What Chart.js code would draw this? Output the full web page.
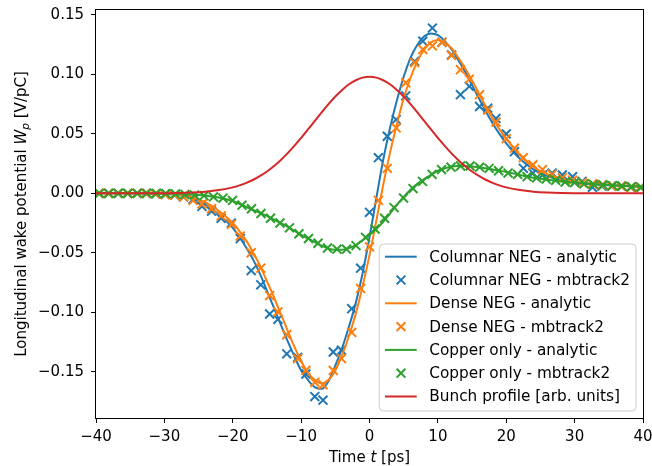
<!DOCTYPE html>
<html>
<head>
<meta charset="utf-8">
<script src="https://cdn.jsdelivr.net/npm/chart.js@4.4.1/dist/chart.umd.min.js"></script>
<style>
  html, body { margin: 0; padding: 0; background: #fff; }
  #wrap { width: 652px; height: 466px; }
</style>
</head>
<body>
<div id="wrap"><canvas id="wakeChart" width="652" height="466"></canvas></div>
<script>
// time grid [ps] used by the analytic curves
const tAnalytic = [-40, -35, -30, -28, -26, -24, -22,
  -20, -19, -18, -17, -16, -15, -14, -13, -12, -11, -10, -9, -8, -7, -6, -5, -4, -3, -2, -1,
  0, 1, 2, 3, 4, 5, 6, 7, 8, 9, 10, 11, 12, 13, 14, 15, 16, 17, 18, 19, 20,
  22, 24, 26, 28, 30, 33, 36, 40];

// analytic wake potentials [V/pC]
const columnarAnalytic = [0, 0, -0.0005, -0.0013, -0.004, -0.0095, -0.018,
  -0.029, -0.037, -0.046, -0.056, -0.068, -0.082, -0.096, -0.110, -0.124, -0.137, -0.149, -0.157, -0.163, -0.1645, -0.158, -0.145, -0.130, -0.112, -0.092, -0.067,
  -0.037, -0.004, 0.028, 0.055, 0.078, 0.098, 0.114, 0.125, 0.132, 0.1345, 0.133, 0.128, 0.121, 0.112, 0.102, 0.091, 0.080, 0.069, 0.059, 0.050, 0.042,
  0.029, 0.020, 0.0145, 0.011, 0.009, 0.0075, 0.0065, 0.0055];
const denseAnalytic = [0, 0, -0.0004, -0.001, -0.003, -0.0075, -0.015,
  -0.025, -0.032, -0.040, -0.050, -0.061, -0.074, -0.087, -0.101, -0.115, -0.129, -0.141, -0.151, -0.157, -0.160, -0.157, -0.149, -0.136, -0.120, -0.101, -0.078,
  -0.052, -0.023, 0.007, 0.034, 0.058, 0.080, 0.097, 0.111, 0.121, 0.127, 0.129, 0.127, 0.122, 0.114, 0.105, 0.095, 0.084, 0.073, 0.063, 0.054, 0.046,
  0.032, 0.022, 0.016, 0.0125, 0.010, 0.008, 0.0065, 0.0055];
const copperAnalytic = [0, 0, -0.0001, -0.0004, -0.001, -0.002, -0.0035,
  -0.0065, -0.009, -0.0115, -0.014, -0.0165, -0.019, -0.022, -0.025, -0.028, -0.0315, -0.035, -0.038, -0.041, -0.044, -0.0465, -0.0475, -0.0475, -0.046, -0.0435, -0.0395,
  -0.035, -0.030, -0.024, -0.017, -0.0098, -0.003, 0.003, 0.008, 0.012, 0.0155, 0.019, 0.021, 0.0225, 0.023, 0.023, 0.0225, 0.022, 0.021, 0.020, 0.019, 0.018,
  0.0155, 0.013, 0.0115, 0.010, 0.009, 0.0077, 0.0066, 0.0055];
const bunchProfile = [0, 0, 0.0001, 0.0003, 0.0007, 0.0014, 0.0027,
  0.0050, 0.0067, 0.0088, 0.0114, 0.0146, 0.0184, 0.0228, 0.0279, 0.0336, 0.0399, 0.0466, 0.0537, 0.0609, 0.0681, 0.0750, 0.0814, 0.0870, 0.0917, 0.0951, 0.0973,
  0.0980, 0.0973, 0.0951, 0.0917, 0.0870, 0.0814, 0.0750, 0.0681, 0.0609, 0.0537, 0.0466, 0.0399, 0.0336, 0.0279, 0.0228, 0.0184, 0.0146, 0.0114, 0.0088, 0.0067, 0.0050,
  0.0027, 0.0014, 0.0007, 0.0003, 0.0001, 0, 0, 0];

// mbtrack2 results: NEG runs share one time grid, copper run has its own
const tNeg = [-39.6, -38.2, -36.8, -35.4, -34.0, -32.7, -31.3, -29.9, -28.5, -27.2, -25.8, -24.5, -23.1, -21.7, -20.2,
  -18.9, -17.3, -15.9, -14.6, -13.4, -12.1, -10.5, -9.3, -8.0, -6.8, -5.3, -4.1, -2.6, -1.3,
  0.0, 1.3, 2.6, 3.9, 5.3, 6.6, 7.8, 9.2, 10.6, 12.0, 13.3, 14.6, 16.1, 17.3, 18.5, 20.0,
  21.2, 22.5, 23.9, 25.3, 26.7, 28.2, 29.7, 31.1, 32.6, 34.0, 35.4, 36.8, 38.2, 39.6];
const columnarTrack = [0, 0, 0, 0, 0, 0, -0.0005, -0.0008, -0.0015, -0.003, -0.005, -0.011, -0.015, -0.021, -0.025,
  -0.038, -0.065, -0.077, -0.1015, -0.106, -0.135, -0.138, -0.152, -0.171, -0.174, -0.1335, -0.132, -0.097, -0.063,
  -0.016, 0.030, 0.048, 0.062, 0.082, 0.111, 0.128, 0.139, 0.127, 0.1165, 0.083, 0.090, 0.073, 0.0716, 0.063, 0.050,
  0.035, 0.021, 0.017, 0.0155, 0.017, 0.0155, 0.014, 0.010, 0.005, 0.006, 0.006, 0.006, 0.005, 0.005];
const denseTrack = [0, 0, 0, 0, 0, 0, -0.0005, -0.001, -0.0015, -0.003, -0.006, -0.009, -0.013, -0.019, -0.026,
  -0.036, -0.050, -0.063, -0.086, -0.0998, -0.119, -0.139, -0.149, -0.159, -0.161, -0.149, -0.139, -0.117, -0.080,
  -0.045, -0.006, 0.021, 0.055, 0.093, 0.110, 0.121, 0.124, 0.127, 0.116, 0.104, 0.096, 0.083, 0.070, 0.060, 0.046,
  0.038, 0.030, 0.024, 0.020, 0.016, 0.013, 0.011, 0.009, 0.008, 0.007, 0.006, 0.006, 0.005, 0.005];

const tCopper = [-39.5, -38.11, -36.72, -35.33, -33.94, -32.55, -31.16, -29.77, -28.38, -26.99, -25.6, -24.21, -22.82, -21.43, -20.04,
  -18.65, -17.26, -15.87, -14.48, -13.09, -11.7, -10.31, -8.92, -7.53, -6.14, -4.75, -3.36, -1.97, -0.58,
  0.81, 2.2, 3.59, 4.98, 6.37, 7.76, 9.15, 10.54, 11.93, 13.32, 14.71, 16.1, 17.49, 18.88, 20.27,
  21.66, 23.05, 24.44, 25.83, 27.22, 28.61, 30.0, 31.39, 32.78, 34.17, 35.56, 36.95, 38.34, 39.73];
const copperTrack = [0, 0, 0, 0, 0, 0, 0, -0.0002, -0.0005, -0.001, -0.0015, -0.002, -0.003, -0.004, -0.006,
  -0.010, -0.013, -0.017, -0.021, -0.025, -0.029, -0.034, -0.038, -0.042, -0.046, -0.047, -0.047, -0.044, -0.037,
  -0.030, -0.021, -0.012, -0.004, 0.004, 0.010, 0.016, 0.020, 0.022, 0.023, 0.023, 0.022, 0.021, 0.019, 0.017,
  0.016, 0.014, 0.013, 0.012, 0.011, 0.0095, 0.009, 0.008, 0.0075, 0.007, 0.0065, 0.006, 0.0055, 0.005];

const xTicks = [-40, -30, -20, -10, 0, 10, 20, 30, 40];
const yTicks = [-0.15, -0.10, -0.05, 0.00, 0.05, 0.10, 0.15];

const FONT = "DejaVu Sans";
const FONT_SIZE = 15;
const MINUS = "\u2212";

function toPoints(xs, ys) {
  return xs.map((x, i) => ({ x: x, y: ys[i] }));
}

function lineSet(label, color, ys, order) {
  return {
    label: label, data: toPoints(tAnalytic, ys), showLine: true,
    borderColor: color, backgroundColor: color, borderWidth: 2,
    pointRadius: 0, cubicInterpolationMode: "monotone", order: order
  };
}

function markerSet(label, color, xs, ys, order) {
  return {
    label: label, data: toPoints(xs, ys), showLine: false,
    pointStyle: "crossRot", pointRadius: 6.3, borderColor: color,
    backgroundColor: color, pointBorderWidth: 2, order: order
  };
}

function fontFor(part, size) {
  const s = part.sub ? size * 0.7 : size;
  return (part.italic ? "italic " : "") + s + "px '" + FONT + "'";
}

// draw text made of pieces (italic / subscript), centred on cx
function drawRich(ctx, parts, size, cx, baseY) {
  let total = 0;
  const widths = parts.map((p) => {
    ctx.font = fontFor(p, size);
    const w = ctx.measureText(p.text).width;
    total += w;
    return w;
  });
  let x = cx - total / 2;
  parts.forEach((p, i) => {
    ctx.font = fontFor(p, size);
    ctx.fillText(p.text, x, baseY + (p.sub ? size * 0.22 : 0));
    x += widths[i];
  });
}

// no extra room for the edge tick labels, the layout padding handles it
function noScalePadding(scale) {
  scale.paddingLeft = 0;
  scale.paddingRight = 0;
  scale.paddingTop = 0;
  scale.paddingBottom = 0;
}

const decorations = {
  id: "decorations",
  afterDraw(chart) {
    const ctx = chart.ctx;
    const area = chart.chartArea;
    ctx.save();

    // frame, all four spines
    ctx.strokeStyle = "#000";
    ctx.lineWidth = 1;
    ctx.strokeRect(Math.round(area.left) - 0.5, Math.round(area.top) - 0.5,
      Math.round(area.right - area.left) + 1, Math.round(area.bottom - area.top) + 1);

    // axis titles
    ctx.fillStyle = "#000";
    ctx.textBaseline = "alphabetic";
    drawRich(ctx, [{ text: "Time " }, { text: "t", italic: true }, { text: " [ps]" }],
      FONT_SIZE, (area.left + area.right) / 2, 462);

    ctx.save();
    ctx.translate(26, (area.top + area.bottom) / 2);
    ctx.rotate(-Math.PI / 2);
    drawRich(ctx, [{ text: "Longitudinal wake potential " }, { text: "W", italic: true },
      { text: "p", italic: true, sub: true }, { text: " [V/pC]" }], FONT_SIZE, 0, 0);
    ctx.restore();

    // legend box in the lower right corner
    const w = 256.7, h = 167, r = 4;
    const x0 = area.right - 7 - w, y0 = area.bottom - 7 - h;
    ctx.beginPath();
    ctx.moveTo(x0 + r, y0);
    ctx.lineTo(x0 + w - r, y0);
    ctx.quadraticCurveTo(x0 + w, y0, x0 + w, y0 + r);
    ctx.lineTo(x0 + w, y0 + h - r);
    ctx.quadraticCurveTo(x0 + w, y0 + h, x0 + w - r, y0 + h);
    ctx.lineTo(x0 + r, y0 + h);
    ctx.quadraticCurveTo(x0, y0 + h, x0, y0 + h - r);
    ctx.lineTo(x0, y0 + r);
    ctx.quadraticCurveTo(x0, y0, x0 + r, y0);
    ctx.closePath();
    ctx.fillStyle = "rgba(255,255,255,0.8)";
    ctx.fill();
    ctx.strokeStyle = "#cccccc";
    ctx.stroke();

    const rowH = 23.3;
    chart.data.datasets.forEach((ds, i) => {
      const cy = y0 + 12.7 + i * rowH;
      ctx.strokeStyle = ds.borderColor;
      ctx.beginPath();
      if (ds.showLine) {
        ctx.lineWidth = 2;
        ctx.moveTo(x0 + 5.7, cy);
        ctx.lineTo(x0 + 37.4, cy);
      } else {
        const d = 4.4, cx = x0 + 21.7;
        ctx.lineWidth = 2;
        ctx.moveTo(cx - d, cy - d); ctx.lineTo(cx + d, cy + d);
        ctx.moveTo(cx - d, cy + d); ctx.lineTo(cx + d, cy - d);
      }
      ctx.stroke();
      ctx.fillStyle = "#000";
      ctx.font = "15.3px '" + FONT + "'";
      ctx.textBaseline = "middle";
      ctx.fillText(ds.label, x0 + 50, cy + 1);
    });
    ctx.restore();
  }
};

const ctx = document.getElementById("wakeChart").getContext("2d");
new Chart(ctx, {
  type: "scatter",
  data: {
    datasets: [
      lineSet("Columnar NEG - analytic", "#1f77b4", columnarAnalytic, 7),
      markerSet("Columnar NEG - mbtrack2", "#1f77b4", tNeg, columnarTrack, 6),
      lineSet("Dense NEG - analytic", "#ff7f0e", denseAnalytic, 5),
      markerSet("Dense NEG - mbtrack2", "#ff7f0e", tNeg, denseTrack, 4),
      lineSet("Copper only - analytic", "#2ca02c", copperAnalytic, 3),
      markerSet("Copper only - mbtrack2", "#2ca02c", tCopper, copperTrack, 2),
      lineSet("Bunch profile [arb. units]", "#d62728", bunchProfile, 1)
    ]
  },
  options: {
    responsive: false,
    devicePixelRatio: 1,
    animation: false,
    events: [],
    layout: { padding: { top: 10, right: 9, bottom: 0, left: 0 } },
    plugins: { legend: { display: false }, tooltip: { enabled: false } },
    scales: {
      x: {
        type: "linear", min: -40, max: 40,
        afterBuildTicks: (scale) => { scale.ticks = xTicks.map((v) => ({ value: v })); },
        afterFit: (scale) => { scale.height = 48; noScalePadding(scale); },
        grid: { drawOnChartArea: false, drawTicks: true, tickLength: 5, color: "#000", lineWidth: 1 },
        border: { display: false },
        ticks: {
          font: { family: FONT, size: FONT_SIZE }, color: "#000", padding: 5, maxRotation: 0,
          callback: (v) => (v < 0 ? MINUS : "") + Math.abs(v)
        }
      },
      y: {
        type: "linear", min: -0.189, max: 0.1542,
        afterBuildTicks: (scale) => { scale.ticks = yTicks.map((v) => ({ value: v })); },
        afterFit: (scale) => { scale.width = 96; noScalePadding(scale); },
        grid: { drawOnChartArea: false, drawTicks: true, tickLength: 5, color: "#000", lineWidth: 1 },
        border: { display: false },
        ticks: {
          font: { family: FONT, size: FONT_SIZE }, color: "#000", padding: 7,
          callback: (v) => (v < 0 ? MINUS : "") + Math.abs(v).toFixed(2)
        }
      }
    }
  },
  plugins: [decorations]
});
</script>
</body>
</html>
